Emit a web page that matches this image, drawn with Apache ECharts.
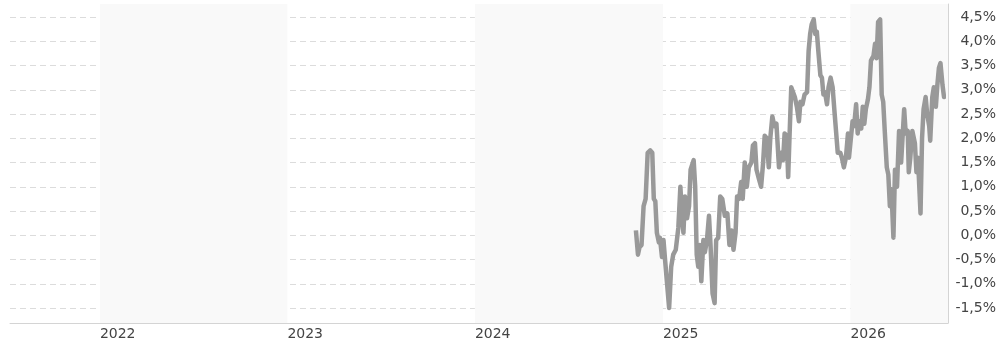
<!DOCTYPE html>
<html>
<head>
<meta charset="utf-8">
<script src="https://cdn.jsdelivr.net/npm/echarts@6/dist/echarts.min.js"></script>
<style>
  html, body { margin: 0; padding: 0; background: #fff; }
  #chart { width: 999px; height: 343px; }
</style>
</head>
<body>
<div id="chart"></div>
<script>
// axis window (5 years)
const axisStart = '2021-07-10';
const axisEnd = '2026-07-10';

// y ticks, in percent
const yMin = -1.5;
const yMax = 4.5;
const yStep = 0.5;

// sample dates, as days after anchorDate
const anchorDate = '2025-01-06';
const dayOffsets = [
  -51, -47, -44, -40, -36, -32, -28, -23, -19, -16,
  -13, -10, -6, -4, 0, 3, 6, 10, 14, 18,
  22, 27, 32, 36, 39, 42, 45, 49, 53, 56,
  62, 65, 68, 71, 74, 77, 81, 84, 88, 92,
  95, 99, 103, 106, 110, 114, 118, 123, 128, 132,
  136, 140, 144, 147, 151, 155, 158, 162, 166, 170,
  175, 178, 182, 185, 190, 194, 198, 201, 205, 209,
  212, 216, 220, 224, 229, 233, 237, 240, 244, 247,
  250, 253, 256, 260, 264, 268, 271, 275, 279, 284,
  287, 290, 293, 297, 300, 303, 306, 310, 313, 316,
  319, 323, 326, 330, 334, 338, 341, 344, 349, 352,
  356, 360, 364, 366, 369, 373, 376, 380, 383, 386,
  390, 393, 396, 399, 403, 406, 409, 414, 417, 420,
  423, 427, 430, 433, 436, 440, 443, 446, 449, 453,
  456, 460, 464, 468, 471, 474, 477, 481, 483, 486,
  490, 495, 498, 501, 506, 509, 512, 516, 519, 523,
  525, 529, 532, 536, 539, 542, 545, 549, 552, 553
];

// values in percent, one per date above
const yieldValues = [
  0.1, -0.4, -0.25, -0.2, 0.6, 0.75, 1.7, 1.75, 1.7, 0.75,
  0.7, 0.05, -0.15, -0.05, -0.45, -0.1, -0.5, -1.0, -1.5, -0.65,
  -0.4, -0.3, 0.15, 1.0, 0.45, 0.05, 0.8, 0.35, 0.6, 1.35,
  1.55, 1.0, -0.4, -0.65, -0.2, -0.95, -0.1, -0.35, -0.1, 0.4,
  -0.2, -1.2, -1.4, -0.1, -0.05, 0.8, 0.75, 0.4, 0.45, -0.2,
  0.1, -0.3, 0.05, 0.8, 0.75, 1.1, 0.75, 1.5, 1.0, 1.4,
  1.5, 1.85, 1.9, 1.35, 1.15, 1.0, 1.5, 2.05, 2.0, 1.4,
  2.0, 2.45, 2.25, 2.3, 1.4, 1.7, 1.55, 2.1, 2.05, 1.2,
  2.15, 3.05, 3.05, 2.85, 2.65, 2.35, 2.75, 2.7, 2.9, 2.95,
  3.8, 4.15, 4.35, 4.45, 4.15, 4.2, 3.8, 3.3, 3.25, 2.9,
  2.95, 2.7, 3.05, 3.25, 3.05, 2.5, 2.1, 1.7, 1.7, 1.6,
  1.4, 1.6, 2.1, 1.6, 1.6, 2.35, 2.25, 2.7, 2.1, 2.35,
  2.2, 2.65, 2.3, 2.6, 2.8, 3.05, 3.6, 3.7, 3.95, 3.65,
  4.4, 4.45, 2.9, 2.75, 2.15, 1.4, 1.25, 0.6, 0.95, -0.05,
  1.35, 1.0, 2.15, 1.5, 2.05, 2.6, 2.1, 2.15, 1.3, 1.6,
  2.15, 1.9, 1.3, 1.6, 0.45, 2.0, 2.6, 2.85, 2.5, 2.25,
  1.95, 2.85, 3.05, 2.65, 3.1, 3.45, 3.55, 3.1, 2.85, 2.9
];

const DAY = 24 * 3600 * 1000;
const YEAR = 365 * DAY;
const anchor = +new Date(anchorDate);
const seriesData = yieldValues.map((v, i) => [anchor + dayOffsets[i] * DAY, v]);

const labelFont = 'DejaVu Sans, Verdana, sans-serif';

const option = {
  animation: false,
  grid: [
    // frame + year bands
    { left: 10, right: 51, top: 4, bottom: 20 },
    // plotting area between the -1,5% and 4,5% ticks
    { left: 10, right: 51, top: 17, bottom: 35 }
  ],
  xAxis: [
    {
      type: 'time',
      gridIndex: 0,
      min: axisStart,
      max: axisEnd,
      minInterval: YEAR,
      splitNumber: 5,
      axisLine: { show: true, lineStyle: { color: '#d4d4d4', width: 1 } },
      axisTick: { show: false },
      axisLabel: {
        formatter: '{yyyy}',
        align: 'left',
        margin: 4,
        color: '#444',
        fontSize: 14,
        fontFamily: labelFont,
        showMinLabel: false,
        showMaxLabel: false
      },
      splitLine: { show: false },
      splitArea: { show: true, areaStyle: { color: ['rgba(0,0,0,0)', '#f9f9f9'] } }
    },
    {
      type: 'time',
      gridIndex: 1,
      min: axisStart,
      max: axisEnd,
      show: false
    }
  ],
  yAxis: [
    {
      type: 'value',
      gridIndex: 0,
      position: 'right',
      min: 0,
      max: 1,
      axisLine: { show: true, lineStyle: { color: '#d4d4d4', width: 1 } },
      axisTick: { show: false },
      axisLabel: { show: false },
      splitLine: { show: false }
    },
    {
      type: 'value',
      gridIndex: 1,
      position: 'right',
      min: yMin,
      max: yMax,
      interval: yStep,
      axisLine: { show: false },
      axisTick: { show: false },
      axisLabel: {
        align: 'right',
        margin: 53,
        color: '#444',
        fontSize: 14,
        fontFamily: labelFont,
        formatter: v => v.toFixed(1).replace('.', ',') + '%'
      },
      splitLine: { show: true, lineStyle: { color: '#dcdcdc', type: [6, 4], width: 1 } }
    }
  ],
  series: [
    {
      type: 'line',
      xAxisIndex: 1,
      yAxisIndex: 1,
      data: seriesData,
      symbol: 'none',
      clip: false,
      lineStyle: { color: '#999999', width: 4.5, join: 'round' }
    }
  ]
};

const chart = echarts.init(document.getElementById('chart'));
chart.setOption(option);
</script>
</body>
</html>
